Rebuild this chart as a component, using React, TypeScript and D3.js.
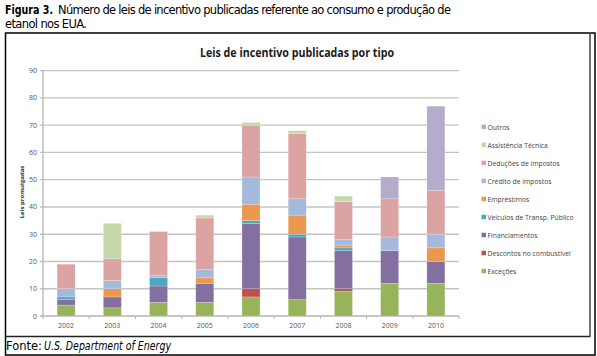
import React from "react";
import * as d3 from "d3";

const years = ["2002", "2003", "2004", "2005", "2006", "2007", "2008", "2009", "2010"];
const excecoes = [4, 3, 5, 5, 7, 6, 9, 12, 12];
const descontos = [0, 0, 0, 0, 3, 0, 1, 0, 0];
const financiamentos = [2, 4, 6, 7, 24, 23, 14, 12, 8];
const veiculos = [1, 0, 3, 0, 1, 1, 1, 0, 0];
const emprestimos = [0, 3, 0, 2, 6, 7, 1, 0, 5];
const credito = [3, 3, 1, 3, 10, 6, 2, 5, 5];
const deducoes = [9, 8, 16, 19, 19, 24, 14, 14, 16];
const assistencia = [0, 13, 0, 1, 1, 1, 2, 0, 0];
const outros = [0, 0, 0, 0, 0, 0, 0, 8, 31];
const yTicks = [0, 10, 20, 30, 40, 50, 60, 70, 80, 90];

const seriesNames = [
  "Exceções",
  "Descontos no combustível",
  "Financiamentos",
  "Veículos de Transp. Público",
  "Empréstimos",
  "Crédito de impostos",
  "Deduções de impostos",
  "Assistência Técnica",
  "Outros",
];
const seriesValues = [excecoes, descontos, financiamentos, veiculos, emprestimos, credito, deducoes, assistencia, outros];
const colors = ["#98b45b", "#c0504d", "#8470a0", "#4aa8c0", "#e9984e", "#a4b9db", "#dba4a3", "#c6d7a9", "#b5abca"];

export default function App() {
  const W = 597, H = 356;
  const x = d3.scaleBand<string>().domain(years).range([43, 459]).paddingInner(0.61).paddingOuter(0.305);
  const y = d3.scaleLinear().domain([0, 90]).range([316, 70.7]);

  const table = years.map((yr, i) => {
    const row: any = { year: yr };
    seriesNames.forEach((n, s) => (row[n] = seriesValues[s][i]));
    return row;
  });
  const stack = d3.stack<any>().keys(seriesNames)(table);

  const step = x.step();
  const boundaries = d3.range(years.length + 1).map((i) => 43 + i * step);

  const legendOrder = [...seriesNames].reverse();
  const legendY = d3.scalePoint<string>().domain(legendOrder).range([127.3, 271.5]);

  const capFont = "'DejaVu Sans', sans-serif";

  return (
    <svg width={W} height={H} style={{ position: "absolute", left: 0, top: 0, background: "#fff" }}>
      {/* caption */}
      <text x={5} y={13.5} fontFamily={capFont} fontSize={11.5} fontWeight="bold" fill="#000" textLength={48} lengthAdjust="spacingAndGlyphs">
        Figura 3.
      </text>
      <text x={58} y={13.5} fontFamily={capFont} fontSize={11.5} fill="#000" textLength={393} lengthAdjust="spacing">
        Número de leis de incentivo  publicadas  referente  ao consumo e produção  de
      </text>
      <text x={5} y={27.5} fontFamily={capFont} fontSize={11.5} fill="#000" textLength={82} lengthAdjust="spacing">
        etanol  nos EUA.
      </text>

      {/* frame */}
      <rect x={5.5} y={33} width={589.5} height={322} fill="none" stroke="#000" strokeWidth={1.5} />
      <line x1={5} x2={590} y1={336.5} y2={336.5} stroke="#222" strokeWidth={1.5} />
      <line x1={590} x2={590} y1={33} y2={337} stroke="#444" strokeWidth={1.5} />

      {/* chart title */}
      <text x={297} y={56.5} textAnchor="middle" fontFamily="'Open Sans', sans-serif" fontWeight="bold" fontSize={12} fill="#1a1a1a" textLength={194} lengthAdjust="spacingAndGlyphs">
        Leis de incentivo publicadas por tipo
      </text>

      {/* gridlines */}
      {yTicks.map((t) => (
        <g key={t}>
          <line x1={40} x2={459} y1={y(t)} y2={y(t)} stroke={t === 0 ? "#b5b5b5" : "#c4c4c4"} strokeWidth={1.3} />
          <text x={37} y={y(t) + 2.5} textAnchor="end" fontFamily="'Open Sans', sans-serif" fontSize={7} fill="#555">
            {t}
          </text>
        </g>
      ))}
      <line x1={43} x2={43} y1={70} y2={316} stroke="#b5b5b5" strokeWidth={1.3} />
      {boundaries.map((b, i) => (
        <line key={i} x1={b} x2={b} y1={316} y2={319} stroke="#b5b5b5" strokeWidth={1} />
      ))}

      {/* bars */}
      {stack.map((layer, s) => (
        <g key={layer.key} fill={colors[s]}>
          {layer.map((d, i) =>
            d[1] - d[0] > 0 ? (
              <rect
                key={i}
                x={x(years[i])!}
                y={y(d[1])}
                width={x.bandwidth()}
                height={y(d[0]) - y(d[1])}
                stroke="#ffffff"
                strokeOpacity={0.35}
                strokeWidth={0.6}
              />
            ) : null
          )}
        </g>
      ))}

      {/* x labels */}
      {years.map((yr) => (
        <text key={yr} x={x(yr)! + x.bandwidth() / 2} y={328} textAnchor="middle" fontFamily="'Open Sans', sans-serif" fontSize={7} fill="#555">
          {yr}
        </text>
      ))}

      {/* y axis title */}
      <text transform={`translate(23.5,192) rotate(-90)`} textAnchor="middle" fontFamily="'Open Sans', sans-serif" fontWeight="bold" fontSize={6} fill="#333">
        Leis promulgadas
      </text>

      {/* legend */}
      {legendOrder.map((n) => {
        const s = seriesNames.indexOf(n);
        const ly = legendY(n)!;
        return (
          <g key={n}>
            <rect x={481.5} y={ly - 2.7} width={4.5} height={4.5} fill={colors[s]} />
            <text x={487.5} y={ly + 2.3} fontFamily="'Open Sans', sans-serif" fontSize={6.8} fill="#444">
              {n}
            </text>
          </g>
        );
      })}

      {/* source */}
      <text x={6} y={350} fontFamily={capFont} fontSize={11.5} fill="#000">
        Fonte:
      </text>
      <text x={44} y={350} fontFamily={capFont} fontSize={11.5} fontStyle="italic" fill="#000" textLength={127} lengthAdjust="spacingAndGlyphs">
        U.S. Department of Energy
      </text>
    </svg>
  );
}
